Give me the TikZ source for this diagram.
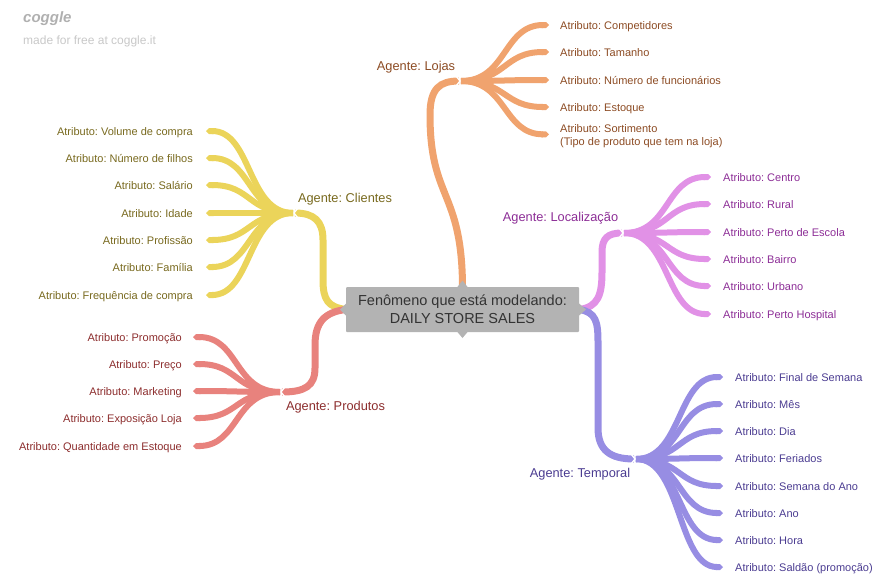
\documentclass[tikz,border=0pt]{standalone}
\usepackage{fontspec}
\setmainfont{Liberation Sans}
\usetikzlibrary{arrows.meta,backgrounds}
\frenchspacing
\definecolor{lojaS}{HTML}{F0A36E}\definecolor{lojaT}{HTML}{8C4B23}
\definecolor{locS}{HTML}{E191E6}\definecolor{locT}{HTML}{8C2D96}
\definecolor{tempS}{HTML}{978DE3}\definecolor{tempT}{HTML}{4B3C91}
\definecolor{cliS}{HTML}{EBD45A}\definecolor{cliT}{HTML}{78691E}
\definecolor{proS}{HTML}{E8827D}\definecolor{proT}{HTML}{8C2D2D}
\definecolor{cgray}{HTML}{B3B3B3}\definecolor{ctext}{HTML}{333333}
\definecolor{logoC}{HTML}{B0B0B0}\definecolor{madeC}{HTML}{C8C8C8}
\newcommand\fanR[4]{\draw[fan,#1] (#2) .. controls +(46pt,0pt) and +(-46pt,0pt) .. ([xshift=#4,yshift=4pt]#3.base west);}
\newcommand\fanL[4]{\draw[fan,#1] (#2) .. controls +(-46pt,0pt) and +(46pt,0pt) .. ([xshift=#4,yshift=4pt]#3.base east);}
\newcommand\chevR[1]{\draw[chev] ([xshift=-3pt,yshift=5pt]#1) -- ([xshift=1pt]#1) -- ([xshift=-3pt,yshift=-5pt]#1);}
\newcommand\chevL[1]{\draw[chev] ([xshift=3pt,yshift=5pt]#1) -- ([xshift=-1pt]#1) -- ([xshift=3pt,yshift=-5pt]#1);}
\begin{document}
\frenchspacing
\begin{tikzpicture}[x=1pt,y=-1pt,
  trunk/.style={line width=7pt},
  fan/.style={line width=6pt,-{Triangle Cap[]}},
  chev/.style={white,line width=1.3pt},
  attrR/.style={anchor=base west,inner sep=0pt,font=\fontsize{11}{13}\selectfont},
  attrL/.style={anchor=base east,inner sep=0pt,font=\fontsize{11}{13}\selectfont},
  agent/.style={inner sep=0pt,font=\fontsize{12.8}{15}\selectfont},
  ptr/.style={fill=cgray}]
\useasboundingbox (0,0) rectangle (885,582);
% logo
\node[anchor=base west,inner sep=0pt,font=\fontsize{15}{15}\selectfont\bfseries\itshape,text=logoC] (logo) at (23,22) {coggle};
\node[anchor=base west,inner sep=0pt,font=\fontsize{12}{14}\selectfont,text=madeC] (made) at (23,44) {made for free at coggle.it};
% center
\node[fill=cgray,minimum width=233pt,minimum height=45pt,inner sep=0pt,align=center,text=ctext,rounded corners=1pt,font=\fontsize{14.5}{18}\selectfont] (c) at (462.5,309.5) {Fenômeno que está modelando:\\DAILY STORE SALES};
% hubs
\coordinate (lh) at (459,81);
\coordinate (lch) at (622,233);
\coordinate (th) at (634,459);
\coordinate (ch) at (295,213);
\coordinate (ph) at (282,392);
\coordinate (lhs) at (461,81);
\coordinate (lchs) at (624,233);
\coordinate (ths) at (636,459);
\coordinate (chs) at (293,213);
\coordinate (phs) at (280,392);
% trunks
\begin{scope}[on background layer]
\draw[trunk,lojaS] (c.north) .. controls (462,190) and (430,200) .. (430,115) .. controls (430,88) and (440,81) .. (lh);
\draw[trunk,locS] (c.east) .. controls (598,307) and (602,295) .. (602,272) -- (602,252) .. controls (602,238) and (608,233) .. (lch);
\draw[trunk,tempS] (c.east) .. controls (596,312) and (598,322) .. (598,342) -- (598,428) .. controls (598,450) and (610,459) .. (th);
\draw[trunk,cliS] (c.west) .. controls (328,307) and (323,300) .. (323,280) -- (323,240) .. controls (323,221) and (314,213) .. (ch);
\draw[trunk,proS] (c.west) .. controls (325,312) and (315,322) .. (315,345) -- (315,368) .. controls (315,386) and (305,392) .. (ph);
\end{scope}
% pointers of the center box
\fill[ptr] (457,287.5) -- (462.5,280.5) -- (468,287.5) -- cycle;
\fill[ptr] (457,331.5) -- (462.5,338) -- (468,331.5) -- cycle;
\fill[ptr] (346.5,303) -- (340,309.5) -- (346.5,316) -- cycle;
\fill[ptr] (578.5,303) -- (586,309.5) -- (578.5,316) -- cycle;
% agents
\node[agent,text=lojaT] (ag1) at (416,67) {Agente: Lojas};
\node[agent,text=locT] (ag2) at (560.5,218.5) {Agente: Localização};
\node[agent,text=tempT] (ag3) at (580,474.5) {Agente: Temporal};
\node[agent,text=cliT] (ag4) at (345,199.5) {Agente: Clientes};
\node[agent,text=proT] (ag5) at (335.5,407.5) {Agente: Produtos};
% Lojas attributes
\begin{scope}[text=lojaT]
\node[attrR] (l1) at (560,29) {Atributo: Competidores};
\node[attrR] (l2) at (560,56) {Atributo: Tamanho};
\node[attrR] (l3) at (560,84) {Atributo: Número de funcionários};
\node[attrR] (l4) at (560,111) {Atributo: Estoque};
\node[anchor=north west,inner sep=0pt,align=left,font=\fontsize{11}{13}\selectfont] (l5) at (560,124) {Atributo: Sortimento\\(Tipo de produto que tem na loja)};
\end{scope}
\fanR{lojaS}{lhs}{l1}{-11pt}
\fanR{lojaS}{lhs}{l2}{-11pt}
\fanR{lojaS}{lhs}{l3}{-11pt}
\fanR{lojaS}{lhs}{l4}{-11pt}
\draw[fan,lojaS] (lhs) .. controls +(46pt,0pt) and +(-46pt,0pt) .. ([xshift=-11pt,yshift=1.5pt]l5.west);
\chevR{lh}
% Localizacao attributes
\begin{scope}[text=locT]
\node[attrR] (o1) at (723,181) {Atributo: Centro};
\node[attrR] (o2) at (723,208) {Atributo: Rural};
\node[attrR] (o3) at (723,236) {Atributo: Perto de Escola};
\node[attrR] (o4) at (723,263) {Atributo: Bairro};
\node[attrR] (o5) at (723,290) {Atributo: Urbano};
\node[attrR] (o6) at (723,318) {Atributo: Perto Hospital};
\end{scope}
\foreach \n in {o1,o2,o3,o4,o5,o6}{\fanR{locS}{lchs}{\n}{-12pt}}
\chevR{lch}
% Temporal attributes
\begin{scope}[text=tempT]
\node[attrR] (t1) at (735,381) {Atributo: Final de Semana};
\node[attrR] (t2) at (735,408) {Atributo: Mês};
\node[attrR] (t3) at (735,435) {Atributo: Dia};
\node[attrR] (t4) at (735,462) {Atributo: Feriados};
\node[attrR] (t5) at (735,490) {Atributo: Semana do Ano};
\node[attrR] (t6) at (735,517) {Atributo: Ano};
\node[attrR] (t7) at (735,544) {Atributo: Hora};
\node[attrR] (t8) at (735,571) {Atributo: Saldão (promoção)};
\end{scope}
\foreach \n in {t1,t2,t3,t4,t5,t6,t7,t8}{\fanR{tempS}{ths}{\n}{-12pt}}
\chevR{th}
% Clientes attributes
\begin{scope}[text=cliT]
\node[attrL] (k1) at (193,135) {Atributo: Volume de compra};
\node[attrL] (k2) at (193,162) {Atributo: Número de filhos};
\node[attrL] (k3) at (193,189) {Atributo: Salário};
\node[attrL] (k4) at (193,217) {Atributo: Idade};
\node[attrL] (k5) at (193,244) {Atributo: Profissão};
\node[attrL] (k6) at (193,271) {Atributo: Família};
\node[attrL] (k7) at (193,299) {Atributo: Frequência de compra};
\end{scope}
\foreach \n in {k1,k2,k3,k4,k5,k6,k7}{\fanL{cliS}{chs}{\n}{13pt}}
\chevL{ch}
% Produtos attributes
\begin{scope}[text=proT]
\node[attrL] (p1) at (182,341) {Atributo: Promoção};
\node[attrL] (p2) at (182,368) {Atributo: Preço};
\node[attrL] (p3) at (182,395) {Atributo: Marketing};
\node[attrL] (p4) at (182,422) {Atributo: Exposição Loja};
\node[attrL] (p5) at (182,450) {Atributo: Quantidade em Estoque};
\end{scope}
\foreach \n in {p1,p2,p3,p4,p5}{\fanL{proS}{phs}{\n}{11pt}}
\chevL{ph}
\end{tikzpicture}
\end{document}
